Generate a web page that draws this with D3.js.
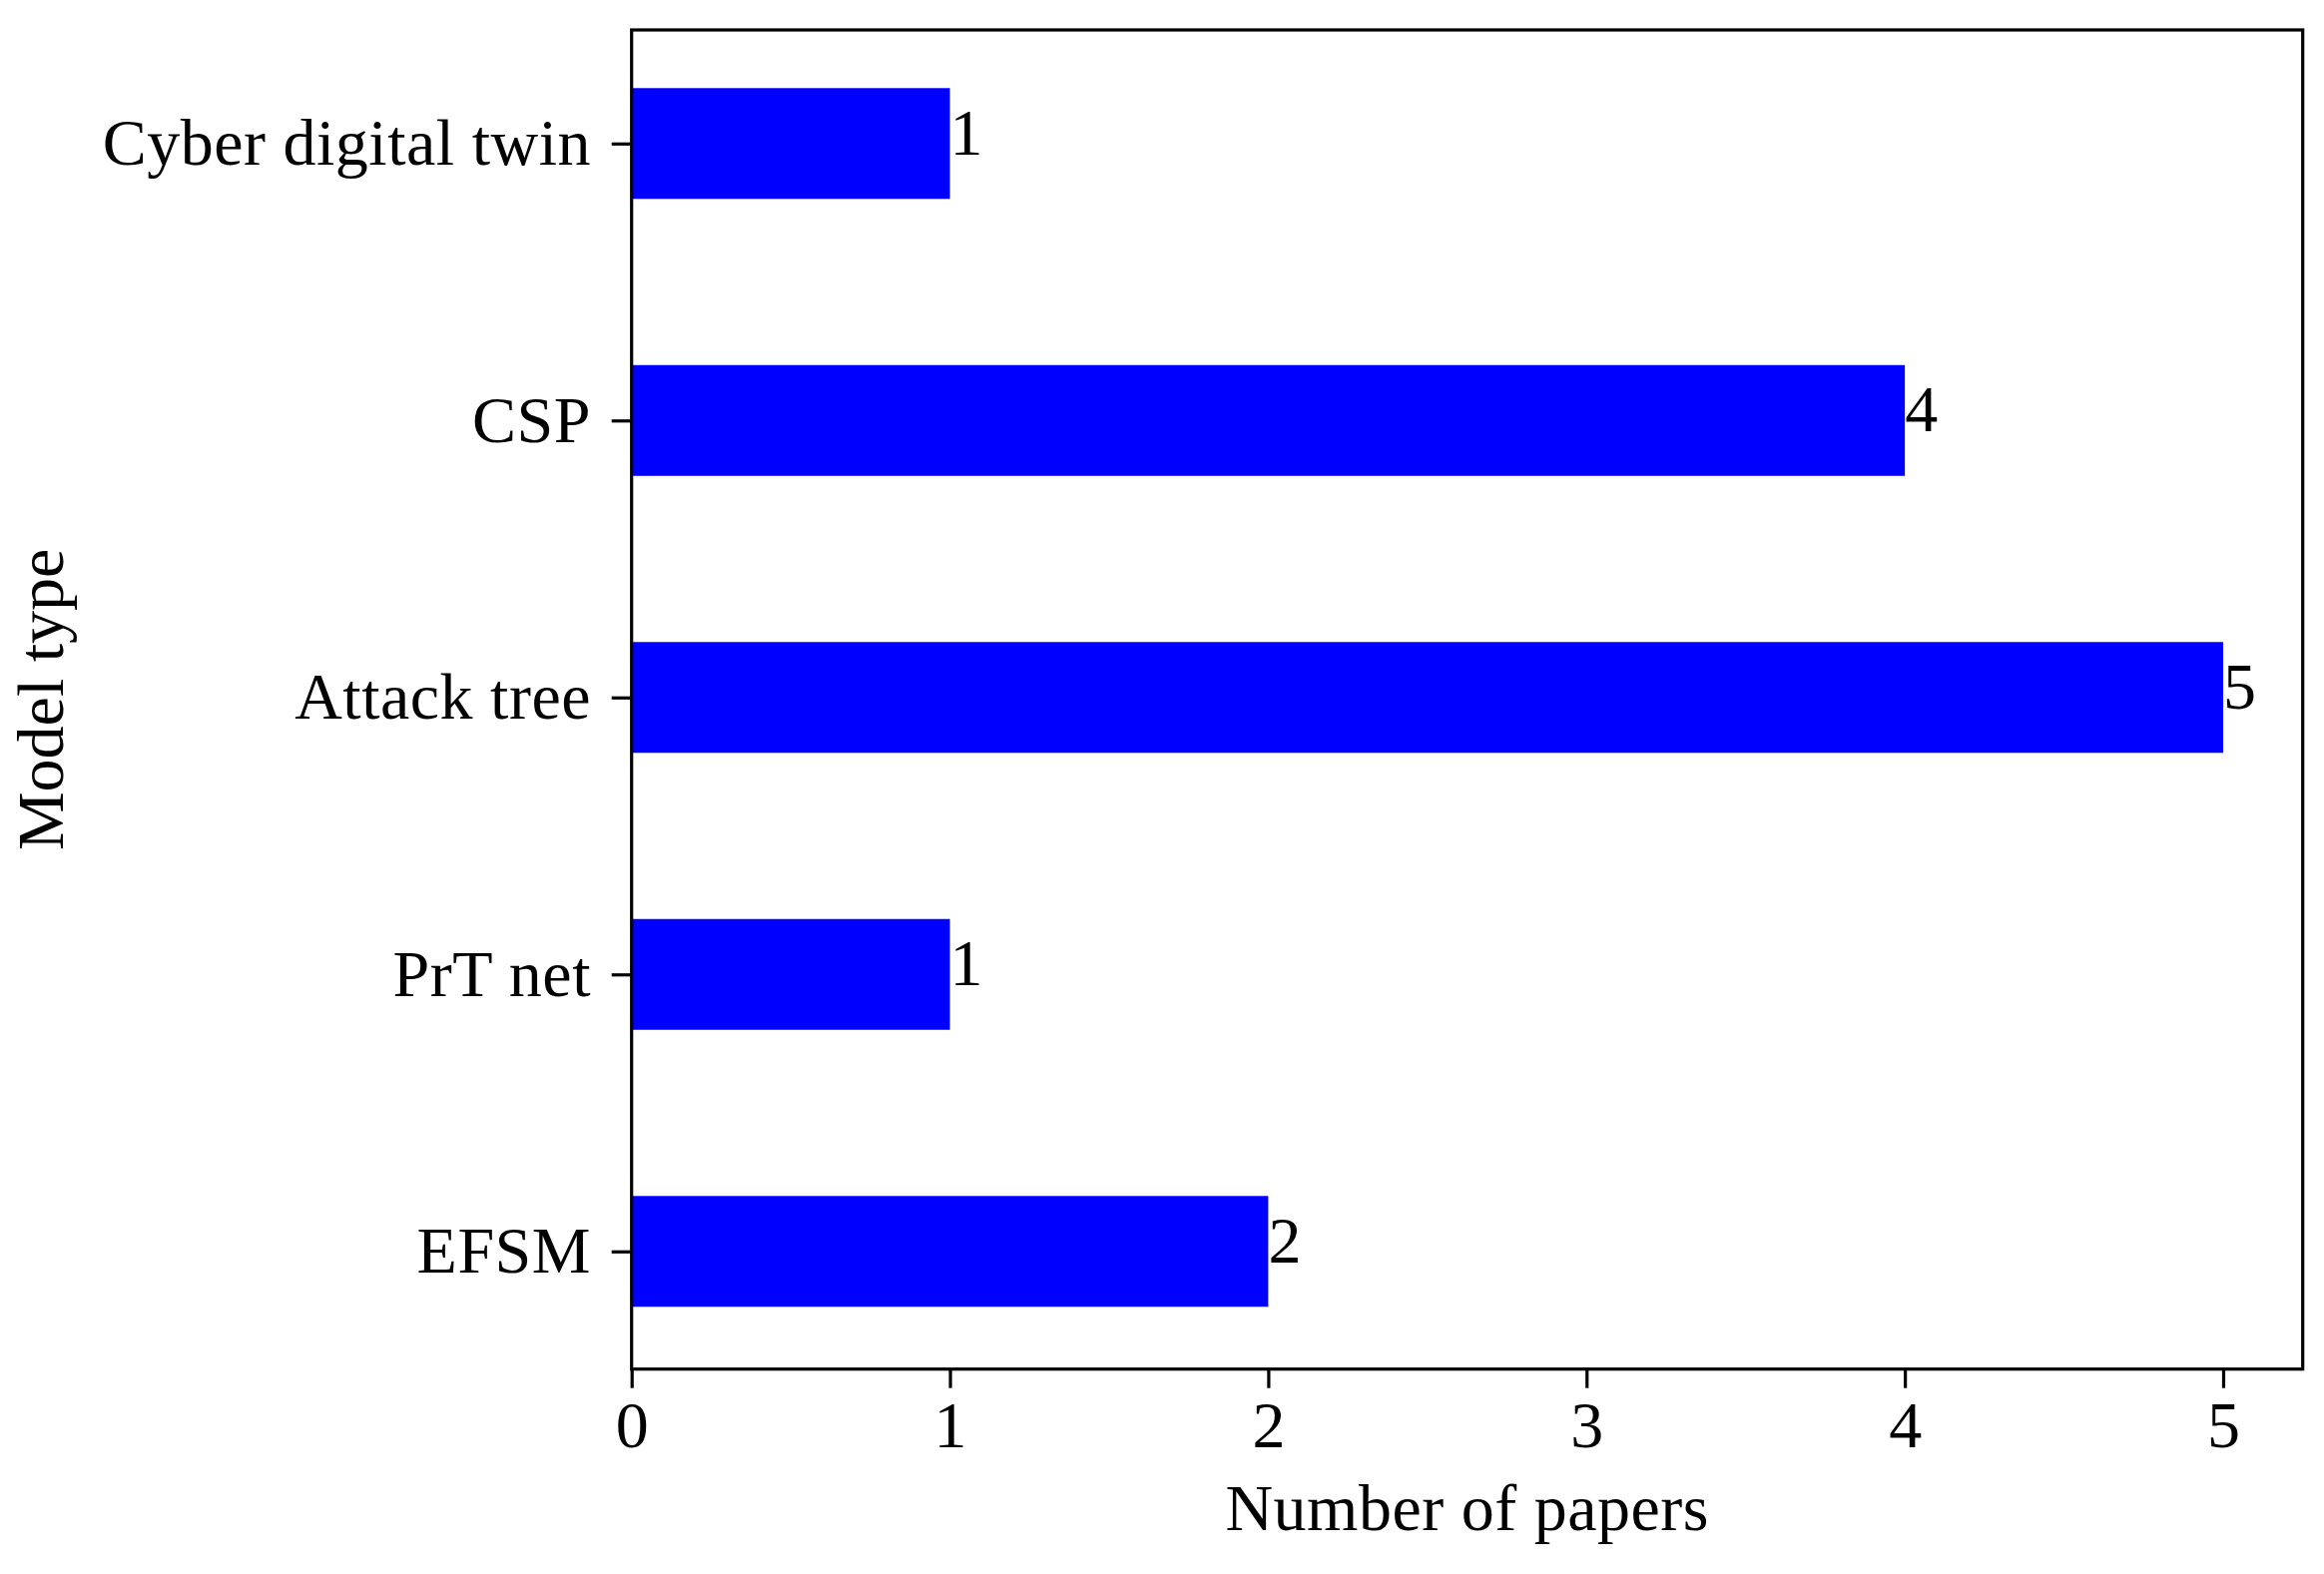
<!DOCTYPE html>
<html>
<head>
<meta charset="utf-8">
<script src="https://cdn.jsdelivr.net/npm/d3@7"></script>
<style>
  html, body { margin: 0; padding: 0; background: #fff; }
  svg { display: block; }
  text { font-family: "Liberation Serif", "DejaVu Serif", serif; fill: #000; }
</style>
</head>
<body>
<svg id="chart" width="2328" height="1577"></svg>
<script>
// Data (bottom-to-top order, as in the chart)
const categories = ["EFSM", "PrT net", "Attack tree", "CSP", "Cyber digital twin"];
const papers = [2, 1, 5, 4, 1];
const xTicks = [0, 1, 2, 3, 4, 5];
const xLabel = "Number of papers";
const yLabel = "Model type";

(function () {
const W = 2328, H = 1577;
const mLeft = 632.7, mRight = 2306.7, mTop = 30, mBottom = 1371.7;
const fontSize = 66;
const barHeight = 0.4;

const svg = d3.select("#chart");
svg.append("rect").attr("width", W).attr("height", H).attr("fill", "#fff");

const x = d3.scaleLinear().domain([0, 5.25]).range([mLeft, mRight]);
const y = d3.scaleLinear().domain([-0.425, 4.41]).range([mBottom, mTop]);

// Bars
svg.append("g").selectAll("rect")
  .data(papers)
  .join("rect")
  .attr("x", x(0))
  .attr("y", (d, i) => y(i + barHeight / 2))
  .attr("width", d => x(d) - x(0))
  .attr("height", (d, i) => y(i - barHeight / 2) - y(i + barHeight / 2))
  .attr("fill", "#0000ff");

// Value labels
svg.append("g").selectAll("text")
  .data(papers)
  .join("text")
  .attr("x", d => x(d))
  .attr("y", (d, i) => y(i) + 11)
  .attr("font-size", fontSize)
  .attr("text-anchor", "start")
  .text(d => d);

// Axes
const xAxis = d3.axisBottom(x).tickValues(xTicks).tickFormat(d3.format("d"))
  .tickSize(19).tickSizeOuter(0).tickPadding(12.4);
const gx = svg.append("g").attr("transform", `translate(0,${mBottom})`).call(xAxis);

const yAxis = d3.axisLeft(y).tickValues(d3.range(categories.length))
  .tickFormat(i => categories[i]).tickSize(20).tickSizeOuter(0).tickPadding(20.7);
const gy = svg.append("g").attr("transform", `translate(${mLeft},0)`).call(yAxis);

[gx, gy].forEach(g => {
  g.select(".domain").remove();
  g.selectAll(".tick line").attr("stroke", "#000").attr("stroke-width", 3.2);
  g.selectAll(".tick text")
    .attr("font-size", fontSize)
    .attr("font-family", "Liberation Serif, DejaVu Serif, serif")
    .attr("fill", "#000");
});
gy.selectAll(".tick text").attr("dy", "0.32em").attr("letter-spacing", "0.5px");

// Frame
svg.append("rect")
  .attr("x", mLeft).attr("y", mTop)
  .attr("width", mRight - mLeft).attr("height", mBottom - mTop)
  .attr("fill", "none").attr("stroke", "#000").attr("stroke-width", 3.2);

// Axis titles
svg.append("text")
  .attr("x", (mLeft + mRight) / 2).attr("y", 1533)
  .attr("text-anchor", "middle").attr("font-size", fontSize)
  .attr("letter-spacing", "0.5px")
  .text(xLabel);

svg.append("text")
  .attr("transform", `translate(63,${(mTop + mBottom) / 2}) rotate(-90)`)
  .attr("text-anchor", "middle").attr("font-size", fontSize)
  .text(yLabel);
})();
</script>
</body>
</html>
